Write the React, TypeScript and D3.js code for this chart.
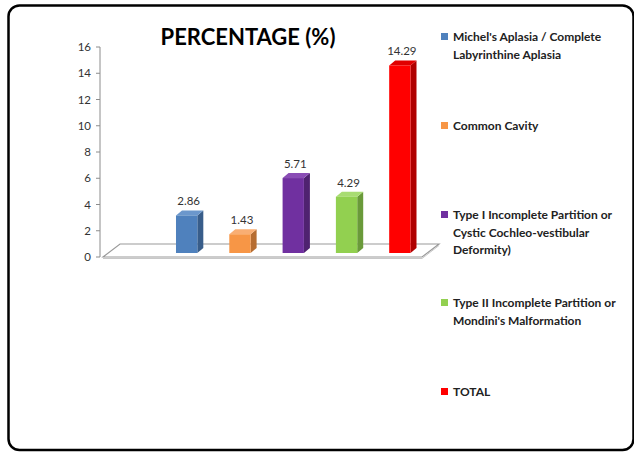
import React from "react";
import * as d3 from "d3";

const categories = [
  "Michel's Aplasia / Complete Labyrinthine Aplasia",
  "Common Cavity",
  "Type I Incomplete Partition or Cystic Cochleo-vestibular Deformity)",
  "Type II Incomplete Partition or Mondini's Malformation",
  "TOTAL",
];
const legendLines = [
  ["Michel's Aplasia / Complete", "Labyrinthine Aplasia"],
  ["Common Cavity"],
  ["Type I Incomplete Partition or", "Cystic Cochleo-vestibular", "Deformity)"],
  ["Type II Incomplete Partition or", "Mondini's Malformation"],
  ["TOTAL"],
];
const values = [2.86, 1.43, 5.71, 4.29, 14.29];
const valueLabels = ["2.86", "1.43", "5.71", "4.29", "14.29"];
const frontColors = ["#4F81BD", "#F79646", "#7030A0", "#92D050", "#FF0000"];
const sideColors = ["#385D8A", "#B66D31", "#4F2270", "#6A9A3A", "#B00000"];
const topColors = ["#6B97CC", "#F9AE73", "#8A4DB5", "#A8DC72", "#E00000"];
const yTicks = [0, 2, 4, 6, 8, 10, 12, 14, 16];

const W = 634;
const H = 452;
const font = "Lato, 'Open Sans', 'Liberation Sans', sans-serif";

export default function App() {
  const y = d3.scaleLinear().domain([0, 16]).range([257, 47]);
  const x = d3
    .scaleBand<string>()
    .domain(categories)
    .range([160, 426.5])
    .paddingInner(0.6)
    .paddingOuter(0.3);
  const bw = x.bandwidth();
  const depthX = 6;
  const depthY = -5;
  const barShift = -4; // bars stand in the middle of the floor depth
  const floorDx = 17;
  const floorDy = -13;
  const floorL = 103;
  const floorR = 422;
  const y0 = y(0);

  const legendY = [37, 126, 215, 303, 392];

  return (
    <svg width={W} height={H} style={{ display: "block", position: "absolute", left: 0, top: 0 }}>
      <rect x={0} y={0} width={W} height={H} fill="#fff" />
      <rect x={8.5} y={5.5} width={625} height={444.5} rx={11} ry={11} fill="#fff" stroke="#000" strokeWidth={2.5} />

      <text x={248} y={45} textAnchor="middle" fontFamily={font} fontWeight={700} fontSize={22} fill="#000">
        PERCENTAGE (%)
      </text>

      {/* floor */}
      <path
        d={`M${floorL},${y0} L${floorR},${y0} L${floorR + floorDx},${y0 + floorDy} L${floorL + floorDx},${y0 + floorDy} Z`}
        fill="#fff"
        stroke="#9a9a9a"
        strokeWidth={1.2}
      />
      <path d={`M${floorL},${y0 + 1.5} L${floorR},${y0 + 1.5} L${floorR + floorDx},${y0 + floorDy + 1.5}`} fill="none" stroke="#c8c8c8" strokeWidth={1} />

      {/* y axis */}
      <line x1={100} x2={100} y1={y(16)} y2={y0} stroke="#8c8c8c" strokeWidth={1} />
      {yTicks.map((t) => (
        <g key={t}>
          <line x1={96} x2={100} y1={y(t)} y2={y(t)} stroke="#8c8c8c" strokeWidth={1} />
          <text x={91} y={y(t) + 4} textAnchor="end" fontFamily={font} fontSize={11.5} fill="#333">
            {t}
          </text>
        </g>
      ))}

      {/* bars */}
      {categories.map((c, i) => {
        const x0 = x(c) as number;
        const x1 = x0 + bw;
        const top = y(values[i]) + barShift;
        const base = y0 + barShift;
        return (
          <g key={c}>
            <path
              d={`M${x1},${base} L${x1 + depthX},${base + depthY} L${x1 + depthX},${top + depthY} L${x1},${top} Z`}
              fill={sideColors[i]}
            />
            <path
              d={`M${x0},${top} L${x0 + depthX},${top + depthY} L${x1 + depthX},${top + depthY} L${x1},${top} Z`}
              fill={topColors[i]}
            />
            <rect x={x0} y={top} width={bw} height={base - top} fill={frontColors[i]} />
            <text
              x={x0 + bw / 2 + 2}
              y={top + depthY - 5}
              textAnchor="middle"
              fontFamily={font}
              fontSize={11.5}
              fill="#333"
            >
              {valueLabels[i]}
            </text>
          </g>
        );
      })}

      {/* legend */}
      {legendLines.map((lines, i) => (
        <g key={i}>
          <rect x={441} y={legendY[i] - 4} width={7} height={7} fill={frontColors[i]} />
          {lines.map((ln, j) => (
            <text
              key={j}
              x={453}
              y={legendY[i] + 4 + j * 17.5}
              fontFamily={font}
              fontWeight={700}
              fontSize={12}
              fill="#222"
            >
              {ln}
            </text>
          ))}
        </g>
      ))}
    </svg>
  );
}
